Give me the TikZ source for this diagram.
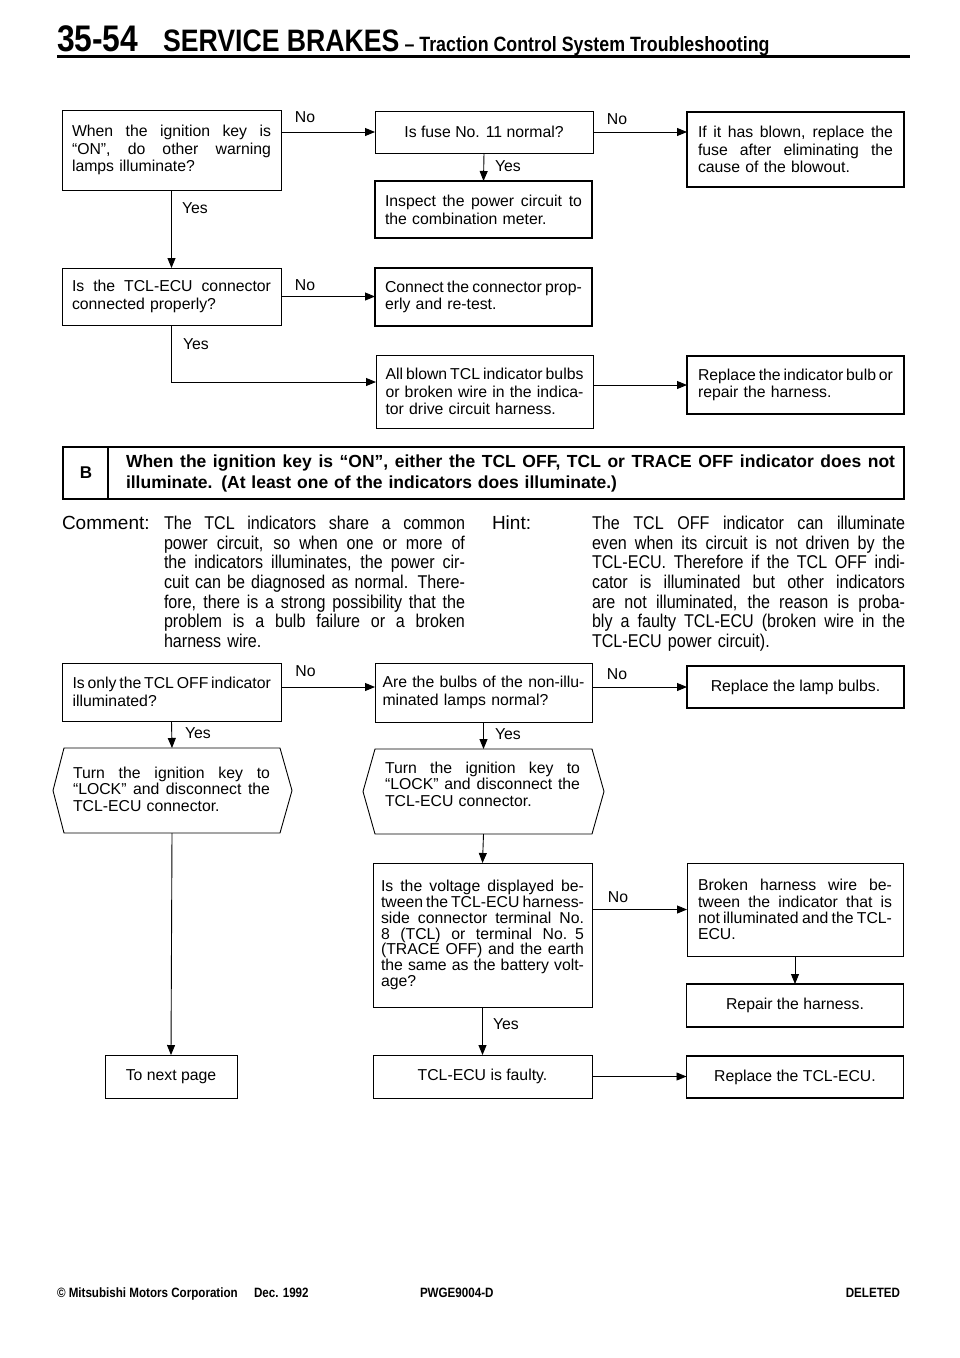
\documentclass[tikz,border=0pt]{standalone}
\usepackage{fontspec}
\setmainfont{Liberation Sans}
\newfontfamily\condfam[FakeStretch=0.87]{Liberation Sans}
\newfontfamily\hdrfam[FakeStretch=0.86]{Liberation Sans}
\usetikzlibrary{arrows.meta}
\def\jw{100pt}
\newcommand\jl[1]{\leavevmode\hbox to \jw{\spaceskip=0.278em plus 1fil minus 0.1em\relax #1}\\}
\newcommand\boxfont{\fontsize{15.8}{17.7}\selectfont}
\newcommand\cmtfont{\condfam\fontsize{18.5}{19.7}\selectfont}
\newcommand\cmtlabfont{\fontsize{19}{19.7}\selectfont}
\newcommand\ftfont{\hdrfam\bfseries\fontsize{13.5}{13.5}\selectfont}
\begin{document}
\begin{tikzpicture}[x=1pt,y=-1pt,
  every node/.style={inner sep=0pt, outer sep=0pt},
  jw/.style={text width=#1pt, execute at begin node={\def\jw{#1pt}}},
  bx/.style={draw, line width=0.9pt, align=left, font=\boxfont},
  tk/.style={bx, line width=1.8pt},
  ar/.style={line width=0.9pt, -{Triangle[length=10pt,width=8pt]}},
  lab/.style={font=\boxfont},
]
\fill[white] (0,0) rectangle (960,1358);
\useasboundingbox (0,0) rectangle (960,1358);

% header
\node[anchor=base west, font={\hdrfam\bfseries\fontsize{37}{37}\selectfont}] (pg) at (57,51) {35-54};
\node[anchor=base west, font={\hdrfam\bfseries\fontsize{31}{31}\selectfont}] (sb) at (163,51) {SERVICE BRAKES};
\node[anchor=base west, font={\hdrfam\bfseries\fontsize{20.7}{20.7}\selectfont}] (tt) at ([xshift=5pt]sb.base east) {– Traction Control System Troubleshooting};
\draw[line width=3pt] (57,56) -- (910,56);

% top flowchart
\node[bx, minimum width=219pt, minimum height=80pt, jw=199] (q1) at (171.5,150)
  {\jl{When the ignition key is}\jl{“ON”, do other warning}lamps illuminate?};
\node[bx, align=center, minimum width=218pt, minimum height=42pt] (fuse) at (484,132) {Is fuse No. 11 normal?};
\node[tk, minimum width=217pt, minimum height=75pt, jw=195] (blown) at (795.5,149.5)
  {\jl{If it has blown, replace the}\jl{fuse after eliminating the}cause of the blowout.};
\node[tk, minimum width=217pt, minimum height=57pt, jw=197] (insp) at (483.5,209.5)
  {\jl{Inspect the power circuit to}the combination meter.};
\node[bx, minimum width=219pt, minimum height=57pt, jw=199] (q2) at (171.5,296.5)
  {\jl{Is the TCL-ECU connector}connected properly?};
\node[tk, minimum width=217pt, minimum height=58pt, jw=197] (conn) at (483.5,297)
  {\jl{Connect the connector prop-}erly and re-test.};
\node[bx, minimum width=217pt, minimum height=73pt, jw=198] (allb) at (484.5,391.5)
  {\jl{All blown TCL indicator bulbs}\jl{or broken wire in the indica-}tor drive circuit harness.};
\node[tk, minimum width=217pt, minimum height=58pt, jw=195] (rep1) at (795.5,385)
  {\jl{Replace the indicator bulb or}repair the harness.};

\draw[ar] (q1.east |- fuse.west) -- (fuse.west);
\draw[ar] (fuse.east) -- (blown.west |- fuse.east);
\draw[ar] (fuse.south) -- (insp.north);
\draw[ar] (q1.south) -- (q2.north);
\draw[ar] (q2.east) -- (conn.west |- q2.east);
\draw[ar] (q2.south) |- ([yshift=9.5pt]allb.west);
\draw[ar] (allb.east |- rep1.west) -- (rep1.west);

\node[lab] (no1) at (305,117) {No};
\node[lab] (no2) at (617,119) {No};
\node[lab, anchor=west] (yes1) at (182,208) {Yes};
\node[lab, anchor=west] (yes2) at (495,166) {Yes};
\node[lab] (no3) at (305,285) {No};
\node[lab, anchor=west] (yes3) at (183,344) {Yes};

% B header
\node[draw, line width=1.1pt, minimum width=841pt, minimum height=52pt] (bbox) at (483.5,473) {};
\draw[line width=1.1pt] ([xshift=45pt]bbox.north west) -- ([xshift=45pt]bbox.south west);
\node[font={\bfseries\fontsize{17}{17}\selectfont}] (bl) at (86,473) {B};
\node[anchor=west, jw=769, align=left, font={\bfseries\fontsize{17.5}{21}\selectfont}] (btitle) at (126,473)
  {\jl{When the ignition key is “ON”, either the TCL OFF, TCL or TRACE OFF indicator does not}illuminate. (At least one of the indicators does illuminate.)};

% comment & hint
\node[anchor=north west, font=\cmtlabfont] (cm) at (62,516) {Comment:};
\node[anchor=north west, jw=301, align=left, font=\cmtfont] (cmt) at (164,516)
  {\jl{The TCL indicators share a common}\jl{power circuit, so when one or more of}\jl{the indicators illuminates, the power cir-}\jl{cuit can be diagnosed as normal. There-}\jl{fore, there is a strong possibility that the}\jl{problem is a bulb failure or a broken}harness wire.};
\node[anchor=north west, font=\cmtlabfont] (hn) at (492,516) {Hint:};
\node[anchor=north west, jw=313, align=left, font=\cmtfont] (hnt) at (592,516)
  {\jl{The TCL OFF indicator can illuminate}\jl{even when its circuit is not driven by the}\jl{TCL-ECU. Therefore if the TCL OFF indi-}\jl{cator is illuminated but other indicators}\jl{are not illuminated, the reason is proba-}\jl{bly a faulty TCL-ECU (broken wire in the}TCL-ECU power circuit).};

% second flowchart
\node[bx, minimum width=219pt, minimum height=58pt, jw=198, font={\fontsize{15.8}{18.5}\selectfont}] (q3) at (171.5,692)
  {\jl{Is only the TCL OFF indicator}illuminated?};
\node[bx, minimum width=217pt, minimum height=59pt, jw=202, font={\fontsize{15.8}{18.5}\selectfont}] (bulbs) at (483.5,692.5)
  {\jl{Are the bulbs of the non-illu-}minated lamps normal?};
\node[tk, align=center, minimum width=217pt, minimum height=42pt] (rep2) at (795.5,687) {Replace the lamp bulbs.};

\coordinate (h1t) at (172,748);
\coordinate (h1b) at (172,833);
\draw[line width=0.9pt] (64,748) -- (280,748) -- (292,790.5) -- (280,833) -- (64,833) -- (53,790.5) -- cycle;
\node[jw=197, align=left, font={\fontsize{15.8}{16.5}\selectfont}] (hex1) at (171.5,789)
  {\jl{Turn the ignition key to}\jl{“LOCK” and disconnect the}TCL-ECU connector.};
\coordinate (h2t) at (483.5,749);
\coordinate (h2b) at (483.5,834);
\draw[line width=0.9pt] (375,749) -- (592,749) -- (604,791.5) -- (592,834) -- (375,834) -- (363,791.5) -- cycle;
\node[jw=195, align=left, font={\fontsize{15.8}{16.5}\selectfont}] (hex2) at (482.5,784)
  {\jl{Turn the ignition key to}\jl{“LOCK” and disconnect the}TCL-ECU connector.};

\node[bx, minimum width=219pt, minimum height=144pt, jw=203, font={\fontsize{15.8}{15.8}\selectfont}] (volt) at (482.5,935)
  {\jl{Is the voltage displayed be-}\jl{tween the TCL-ECU harness-}\jl{side connector terminal No.}\jl{8 (TCL) or terminal No. 5}\jl{(TRACE OFF) and the earth}\jl{the same as the battery volt-}age?};
\node[bx, minimum width=216pt, minimum height=93pt, jw=194, font={\fontsize{15.8}{16.3}\selectfont}] (brok) at (795,909.5)
  {\jl{Broken harness wire be-}\jl{tween the indicator that is}\jl{not illuminated and the TCL-}ECU.};
\node[tk, align=center, minimum width=217pt, minimum height=43pt] (repair) at (795,1005.5) {Repair the harness.};
\node[bx, align=center, minimum width=219pt, minimum height=43pt] (faulty) at (482.5,1076.5) {TCL-ECU is faulty.};
\node[tk, align=center, minimum width=217pt, minimum height=42pt] (rep3) at (795,1077) {Replace the TCL-ECU.};
\node[bx, align=center, minimum width=132pt, minimum height=43pt] (next) at (171,1076.5) {To next page};

\draw[ar] (q3.east |- rep2.west) -- (bulbs.west |- rep2.west);
\draw[ar] (bulbs.east |- rep2.west) -- (rep2.west);
\draw[ar] (q3.south) -- (h1t);
\draw[ar] (bulbs.south) -- (h2t);
\draw[ar] (h1b) -- (next.north);
\draw[ar] (h2b) -- (volt.north);
\draw[ar] (volt.east |- brok.west) -- (brok.west);
\draw[ar] (brok.south) -- (repair.north);
\draw[ar] (volt.south) -- (faulty.north);
\draw[ar] (faulty.east) -- (rep3.west |- faulty.east);

\node[lab] (no4) at (305.5,671) {No};
\node[lab] (no5) at (617,674) {No};
\node[lab, anchor=west] (yes4) at (185,733) {Yes};
\node[lab, anchor=west] (yes5) at (495,734) {Yes};
\node[lab] (no6) at (618,897) {No};
\node[lab, anchor=west] (yes6) at (493,1024) {Yes};

% footer
\node[anchor=base west, font=\ftfont] (f1) at (57,1297) {© Mitsubishi Motors Corporation};
\node[anchor=base west, font=\ftfont] (f2) at (254,1297) {Dec. 1992};
\node[anchor=base west, font=\ftfont] (f3) at (420,1297) {PWGE9004-D};
\node[anchor=base east, font=\ftfont] (f4) at (900,1297) {DELETED};
\end{tikzpicture}
\end{document}
